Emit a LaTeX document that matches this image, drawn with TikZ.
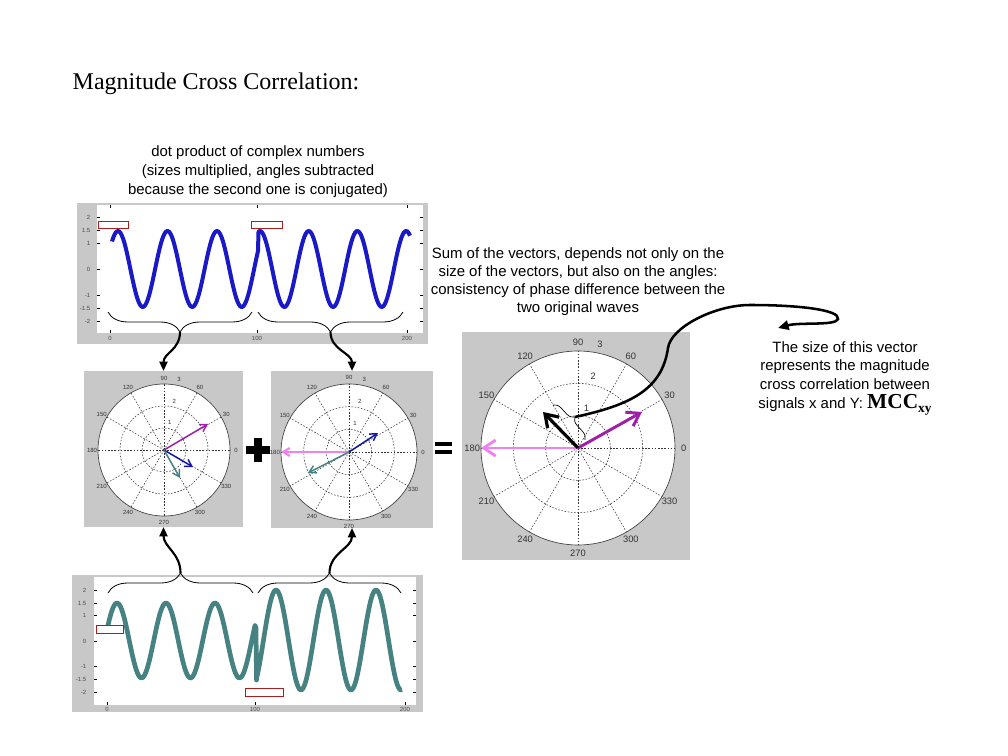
\documentclass[tikz,border=0pt]{standalone}
\usepackage{fontspec}
\setmainfont{Liberation Sans}
\newfontfamily\titlefont{Liberation Serif}
\usepackage{xcolor}
\definecolor{panelgray}{RGB}{200, 200, 200}
\definecolor{waveblue}{RGB}{25, 25, 200}
\definecolor{waveteal}{RGB}{70, 130, 130}
\definecolor{vecblue}{RGB}{20, 20, 170}
\definecolor{vecpurple}{RGB}{160, 30, 170}
\definecolor{vecpink}{RGB}{238, 130, 238}
\definecolor{tipred}{RGB}{170, 30, 30}
\usetikzlibrary{arrows.meta, decorations.pathreplacing}

% polar (compass) grid: center, radius, label font
\newcommand{\compassplot}[3]{%
  \begin{scope}[shift={#1}, yscale=-1]
    \fill[white] (0,0) circle (#2);
    \foreach \k in {1,2}
      \draw[griddash] (0,0) circle ({#2*\k/3});
    \foreach \a in {0,30,...,330}
      \draw[griddash] (0,0) -- (\a:#2);
    \draw[black!75, line width=0.5pt] (0,0) circle (#2);
    \foreach \a in {0,30,...,330}
      \node[font=#3, text=black!80] at (\a:{1.09*#2}) {\a};
    \foreach \k in {1,2,3}
      \node[font=#3, text=black!80] at (78:{#2*\k/3+0.09*#2}) {\k};
  \end{scope}}

\begin{document}
\begin{tikzpicture}[x=0.75pt, y=-0.75pt,
    panel/.style={fill=panelgray, inner sep=0pt, outer sep=0pt},
    griddash/.style={dash pattern=on 1.2pt off 1.2pt, line width=0.4pt, black!80},
    conn/.style={line width=1.6pt, -{Triangle[length=7pt, width=6pt]}},
    wavebrace/.style={decorate, decoration={brace, amplitude=15pt}, line width=0.6pt},
    databox/.style={draw=tipred, fill=white, line width=0.6pt},
    ticklab/.style={font=\fontsize{4.5}{5}\selectfont, text=black!70},
    smallvec/.style={line width=1.1pt, -{Straight Barb[length=5pt, width=6pt]}},
    bigvec/.style={line width=2.2pt, -{Straight Barb[length=9pt, width=12pt]}},
    note/.style={align=center, anchor=north, inner sep=0pt}]

    \fill[white] (0,0) rectangle (1008,756);
    \useasboundingbox (0,0) rectangle (1008,756);

    % Title and notes
    \node[font=\titlefont\fontsize{18}{21}\selectfont, anchor=base west] (title) at (68,90) {Magnitude Cross Correlation:};
    \node[note, font=\fontsize{11.2}{14.25}\selectfont] (dotnote) at (258,145.5)
        {dot product of complex numbers\\(sizes multiplied, angles subtracted\\because the second one is conjugated)};
    \node[note, font=\fontsize{11.2}{13.5}\selectfont] (sumnote) at (578,247)
        {Sum of the vectors, depends not only on the\\size of the vectors, but also on the angles:\\consistency of phase difference between the\\two original waves};
    \node[note, font=\fontsize{11.2}{14}\selectfont] (mccnote) at (845,341)
        {The size of this vector\\represents the magnitude\\cross correlation between\\signals x and Y: {\titlefont\bfseries\fontsize{16}{16}\selectfont MCC\raisebox{-0.4ex}{\fontsize{10}{10}\selectfont xy}}};

    % Top wave (x)
    \fill[panelgray] (77,203) rectangle (428,344);
    \fill[white] (97,205) rectangle (423,333);
    \foreach \v/\yy in {2/217, 1.5/230, 1/243, 0/269, -1/295, -1.5/308, -2/321} {
        \node[ticklab, anchor=east] at (95,\yy) {\v};
        \draw[line width=0.3pt] (97,\yy) -- (100,\yy) (420,\yy) -- (423,\yy);
    }
    \foreach \v/\xx in {0/110, 100/257, 200/407} {
        \node[ticklab] at (\xx,338) {\v};
        \draw[line width=0.3pt] (\xx,333) -- (\xx,330) (\xx,205) -- (\xx,208);
    }
    \draw[waveblue, line width=3pt, line join=round]
        plot[domain=112:258, samples=120] (\x,{269-38*cos(7.2727*(\x-118))})
        -- plot[domain=258.5:410, samples=120] (\x,{269-38*cos(7.3922*(\x-260))});
    \draw[databox] (98,221) rectangle (128,228);
    \draw[databox] (251,221) rectangle (282,228);
    \draw[wavebrace] (252,312) -- (108,312);
    \draw[wavebrace] (403,312) -- (258,312);
    \coordinate (braceTL) at (180,332);
    \coordinate (braceTR) at (330.5,332);

    % Bottom wave (y)
    \fill[panelgray] (72,575) rectangle (423,712);
    \fill[white] (94,577) rectangle (416,705);
    \foreach \v/\yy in {2/590, 1.5/603, 1/615.5, 0/641, -1/666.5, -1.5/679, -2/692} {
        \node[ticklab, anchor=east] at (91,\yy) {\v};
        \draw[line width=0.3pt] (94,\yy) -- (97,\yy) (413,\yy) -- (416,\yy);
    }
    \foreach \v/\xx in {0/107, 100/255, 200/405} {
        \node[ticklab] at (\xx,709) {\v};
        \draw[line width=0.3pt] (\xx,705) -- (\xx,702);
    }
    \draw[waveteal, line width=3.5pt, line join=round]
        plot[domain=108:255, samples=120] (\x,{640.5-37.5*cos(7.3469*(\x-117))})
        -- (256,628) -- (256.5,680)
        -- plot[domain=257:402, samples=120] (\x,{640-50*cos(7.2*(\x-276))});
    \draw[databox] (96,625) rectangle (123,633);
    \draw[databox] (245,688) rectangle (283,696);
    \draw[wavebrace] (108,593) -- (253,593);
    \draw[wavebrace] (258,593) -- (401,593);
    \coordinate (braceBL) at (180.5,573);
    \coordinate (braceBR) at (329.5,573);

    % Compass plots
    \node[panel, minimum width=119.25pt, minimum height=117pt] (compassL) at (163.5,449) {};
    \node[panel, minimum width=121.5pt, minimum height=117.75pt] (compassR) at (352,449.5) {};
    \node[panel, minimum width=171pt, minimum height=171pt] (compassS) at (576,446) {};
    \compassplot{(164,450)}{66}{\fontsize{4.5}{5}\selectfont}
    \compassplot{(349,452)}{68}{\fontsize{4.5}{5}\selectfont}
    \compassplot{(578,448)}{97}{\fontsize{7}{8}\selectfont}
    \coordinate (oL) at (164,450);
    \coordinate (oR) at (349,452);
    \coordinate (oS) at (578,448);

    % Vectors
    \draw[smallvec, vecpurple] (oL) -- ++(44,-26);
    \draw[smallvec, vecblue] (oL) -- ++(29,17);
    \draw[smallvec, waveteal] (oL) -- ++(16,28);
    \draw[smallvec, vecpink, line width=1.6pt] (oR) -- ++(-68,0);
    \draw[smallvec, vecblue] (oR) -- ++(29,-19);
    \draw[smallvec, waveteal] (oR) -- ++(-41,21);
    \draw[bigvec, vecpink] (oS) -- ++(-97,0);
    \draw[bigvec, vecpurple] (oS) -- ++(64,-36);
    \draw[bigvec, black, line width=2.4pt] (oS) -- ++(-35,-36);

    % Plus and equals
    \draw[line width=6pt] (246,450) -- (270,450) (258,438) -- (258,462);
    \fill (435,442) rectangle (452,446.3);
    \fill (435,450) rectangle (452,454.3);

    % Connectors
    \draw[conn] (braceTL) .. controls +(0,18) and +(0,-18) .. (compassL.north);
    \draw[conn] (braceTR) .. controls +(0,18) and +(0,-18) .. (compassR.north);
    \draw[conn] (braceBL) .. controls +(0,-20) and +(0,20) .. (compassL.south);
    \draw[conn] (braceBR) .. controls +(0,-20) and +(0,20) .. (compassR.south);

    % Size of the sum vector
    \draw[decorate, decoration={brace, amplitude=6pt}, line width=0.5pt] (553,405) -- (585,440);
    \coordinate (scribtip) at (575,417);
    \coordinate (mccin) at (778,328);
    \draw[line width=1.9pt, -{Triangle[length=8pt, width=7pt]}] (scribtip)
        .. controls (630,405) and (662,390) .. (668,348)
        .. controls (671,327) and (715,305) .. (750,305)
        .. controls (800,305) and (840,310) .. (838,319)
        .. controls (836,326) and (800,322) .. (mccin);
\end{tikzpicture}
\end{document}
